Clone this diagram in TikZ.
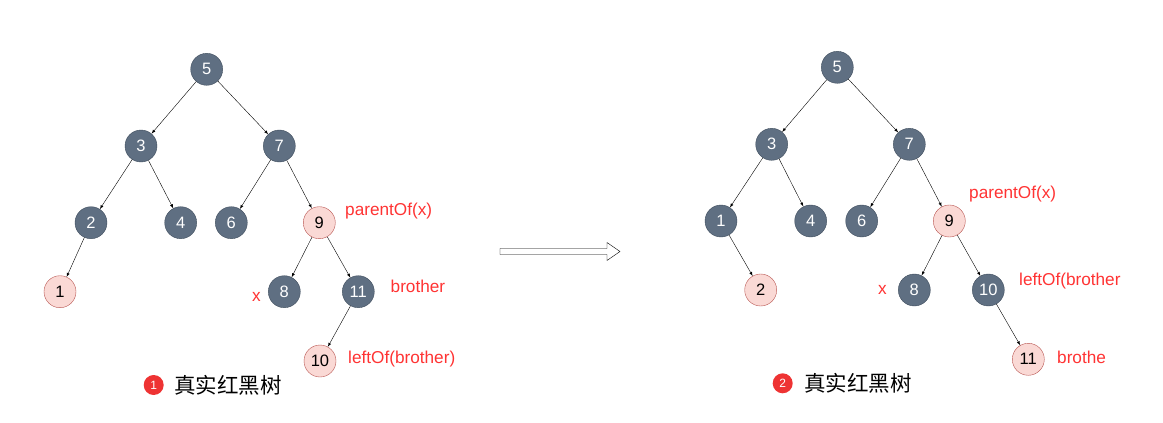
\documentclass[tikz,border=0pt]{standalone}
\usepackage{fontspec}
\setmainfont{Liberation Sans}
\newfontfamily\cjk{Noto Sans CJK SC}
\usepackage{tikz}
\usetikzlibrary{arrows}
\definecolor{nodeblack}{HTML}{5F6F82}
\definecolor{nodeblackline}{HTML}{3E4C5C}
\definecolor{nodered}{HTML}{FAD9D5}
\definecolor{noderedline}{HTML}{B85450}
\definecolor{labelred}{HTML}{FF3333}
\definecolor{badgered}{HTML}{EE3333}
\tikzset{
	blknode/.style={circle, draw=nodeblackline, fill=nodeblack, minimum size=32pt, inner sep=0pt, text=white, font=\fontsize{16.5}{16.5}\selectfont},
	rednode/.style={circle, draw=noderedline, fill=nodered, minimum size=32pt, inner sep=0pt, text=black, font=\fontsize{16.5}{16.5}\selectfont},
	lbl/.style={anchor=west, inner sep=0pt, text=labelred, font=\fontsize{17.2}{17.2}\selectfont},
	badge/.style={circle, fill=badgered, minimum size=20pt, inner sep=0pt, text=white, font=\fontsize{12}{12}\selectfont},
	captext/.style={anchor=west, inner sep=0pt, font=\cjk\fontsize{21.5}{21.5}\selectfont}
}
\begin{document}
\begin{tikzpicture}[x=1pt, y=-1pt]
				\useasboundingbox (0, 0) rectangle (1163, 423);
				% Left tree:
				\node[blknode](L5) at (206.7, 69.3){5};
				\node[blknode](L3) at (141, 146){3};
				\node[blknode](L7) at (279.3, 146){7};
				\node[blknode](L2) at (91, 222.7){2};
				\node[blknode](L4) at (180.7, 222.7){4};
				\node[blknode](L6) at (231.3, 222.7){6};
				\node[rednode](L9) at (319.3, 222.7){9};
				\node[rednode](L1) at (60, 291.7){1};
				\node[blknode](L8) at (284.3, 291.7){8};
				\node[blknode](L11) at (358.3, 291.7){11};
				\node[rednode](L10) at (320, 361){10};
				\draw[-latex] (L5) -- (L3);
				\draw[-latex] (L5) -- (L7);
				\draw[-latex] (L3) -- (L2);
				\draw[-latex] (L3) -- (L4);
				\draw[-latex] (L7) -- (L6);
				\draw[-latex] (L7) -- (L9);
				\draw[-latex] (L2) -- (L1);
				\draw[-latex] (L9) -- (L8);
				\draw[-latex] (L9) -- (L11);
				\draw[-latex] (L11) -- (L10);
				\node[lbl](LP) at (345, 211){parentOf(x)};
				\node[lbl](LB) at (390.5, 286.5){brother};
				\node[lbl](LX) at (252, 296.5){x};
				\node[lbl](LL) at (348, 359){leftOf(brother)};
				\node[badge](B1) at (153.7, 385){1};
				\node[captext](C1) at (174, 385){真实红黑树};
				% Block arrow:
				\draw[fill=white] (500, 248.5) -- (607, 248.5) -- (607, 242.5) -- (620, 251.5) -- (607, 260.5) -- (607, 254.5) -- (500, 254.5) -- cycle;
				% Right tree:
				\node[blknode](R5) at (837.3, 67.3){5};
				\node[blknode](R3) at (771.7, 144.3){3};
				\node[blknode](R7) at (909.3, 144.3){7};
				\node[blknode](R1) at (721, 221){1};
				\node[blknode](R4) at (810.7, 221){4};
				\node[blknode](R6) at (861.7, 221){6};
				\node[rednode](R9) at (949.3, 221){9};
				\node[rednode](R2) at (760.7, 290){2};
				\node[blknode](R8) at (914.3, 290){8};
				\node[blknode](R10) at (988.3, 290){10};
				\node[rednode](R11) at (1028.3, 359.3){11};
				\draw[-latex] (R5) -- (R3);
				\draw[-latex] (R5) -- (R7);
				\draw[-latex] (R3) -- (R1);
				\draw[-latex] (R3) -- (R4);
				\draw[-latex] (R7) -- (R6);
				\draw[-latex] (R7) -- (R9);
				\draw[-latex] (R1) -- (R2);
				\draw[-latex] (R9) -- (R8);
				\draw[-latex] (R9) -- (R10);
				\draw[-latex] (R10) -- (R11);
				\node[lbl](RP) at (969, 194){parentOf(x)};
				\node[lbl](RL) at (1019, 281){leftOf(brother};
				\node[lbl](RX) at (878, 289.5){x};
				\node[lbl](RB) at (1057, 357.5){brothe};
				\node[badge](B2) at (782.7, 383.3){2};
				\node[captext](C2) at (804, 383.3){真实红黑树};
			\end{tikzpicture}
\end{document}
